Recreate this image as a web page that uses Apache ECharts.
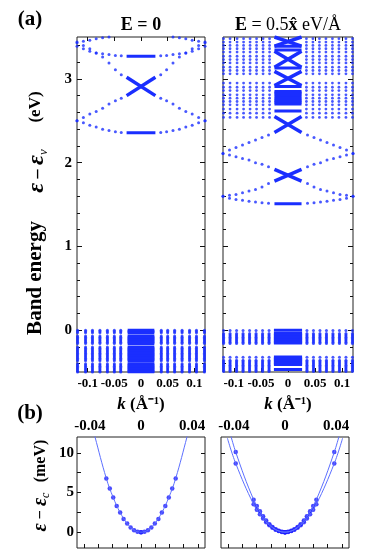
<!DOCTYPE html>
<html><head><meta charset="utf-8">
<script src="https://cdn.jsdelivr.net/npm/echarts@6/dist/echarts.min.js"></script>
<style>html,body{margin:0;padding:0;background:#fff}#c{width:369px;height:558px}</style>
</head><body><div id="c"></div>
<script>
// ================= DATA =================
// ---- Panel (a) left : E = 0 ----
const kSparseL = [0.037, 0.048, 0.060, 0.072, 0.084, 0.096, 0.108, 0.120];
const bandL1 = [2.36, 2.37, 2.385, 2.40, 2.425, 2.445, 2.475, 2.50];
const bandL2 = [2.77, 2.74, 2.70, 2.65, 2.61, 2.58, 2.54, 2.50];
const bandL3 = [3.05, 3.11, 3.19, 3.26, 3.31, 3.36, 3.40, 3.43];
const bandL4 = [3.275, 3.28, 3.29, 3.30, 3.31, 3.33, 3.36, 3.39];
const bandL5 = [null, null, 3.50, 3.49, 3.48, 3.46, 3.45, 3.44];
const kDenseL = 0.027;
const flatsL = [3.27, 2.356];
const crossL = [[3.02, 2.80]];
const valColsL = [0.038, 0.050, 0.063, 0.077, 0.091, 0.104, 0.119];
const valKCenterL = 0.025;
const valLevelsL = [0.0, -0.015, -0.03, -0.07, -0.085, -0.10, -0.115, -0.13, -0.145, -0.16,
  -0.20, -0.215, -0.23, -0.245, -0.26, -0.275, -0.29, -0.305, -0.32, -0.335, -0.35, -0.365,
  -0.40, -0.415, -0.43, -0.445, -0.46, -0.475, -0.49, -0.50];

// ---- Panel (a) right : E = 0.5 x eV/A ----
const kSparseR = [0.036, 0.048, 0.060, 0.072, 0.084, 0.096, 0.108, 0.120];
const bandR1 = [1.515, 1.52, 1.53, 1.54, 1.55, 1.56, 1.575, 1.60];
const bandR2 = [1.75, 1.71, 1.68, 1.66, 1.64, 1.62, 1.61, 1.60];
const bandR3 = [1.95, 1.98, 2.00, 2.03, 2.05, 2.07, 2.09, 2.11];
const bandR4 = [2.33, 2.30, 2.27, 2.24, 2.21, 2.18, 2.15, 2.11];
const kDenseR = 0.025;
const flatsR = [1.51, 2.615, 2.70, 2.72, 2.74, 2.76, 2.785, 2.81, 2.83, 2.85, 2.91, 3.13, 3.345, 3.39];
const crossR = [[1.92, 1.78], [2.55, 2.36], [3.09, 2.92], [3.33, 3.14], [3.50, 3.39]];
const upColsR = [0.034, 0.046, 0.058, 0.070, 0.082, 0.094, 0.107, 0.119];
const upLevelsR = [2.54, 2.59, 2.64, 2.69, 2.73, 2.77, 2.81, 2.86, 2.90, 2.95, 3.06, 3.10,
  3.14, 3.19, 3.23, 3.27, 3.32, 3.36, 3.40, 3.44, 3.48];
const valColsR = [0.035, 0.047, 0.059, 0.071, 0.083, 0.095, 0.107, 0.119];
const valKCenterR = 0.026;
const valLevelsR = [-0.005, -0.04, -0.055, -0.07, -0.085, -0.10, -0.115, -0.13, -0.145, -0.16,
  -0.325, -0.36, -0.375, -0.39, -0.405, -0.42, -0.435, -0.45, -0.465, -0.48, -0.495];
const valBlockR = [0.0, -0.04, -0.055, -0.07, -0.085, -0.10, -0.115, -0.13, -0.145, -0.155,
  -0.32, -0.335, -0.35, -0.365, -0.38, -0.395, -0.41, -0.47];

// ---- Panel (b) left ----
const kDotsBL = [0.0271, 0.0244, 0.0217, 0.0190, 0.0163, 0.0136, 0.0108, 0.0081, 0.0054, 0.0027, 0];
const eDotsBL = [6.78, 5.49, 4.36, 3.30, 2.47, 1.67, 1.09, 0.59, 0.25, 0.04, 0];
const kLineBL = [0.038, 0.036, 0.0271, 0.0217, 0.0163, 0.0108, 0.0054, 0];
const eLineBL = [13.4, 12.05, 6.78, 4.36, 2.47, 1.09, 0.25, 0];

// ---- Panel (b) right ----
const kDotsBR = [0.0385, 0.0245, 0.0220, 0.0196, 0.0171, 0.0147, 0.0122, 0.0098, 0.0073, 0.0049, 0.0024, 0];
const eDotsBRin = [10.1, 4.09, 3.30, 2.62, 1.99, 1.47, 1.01, 0.65, 0.36, 0.16, 0.04, 0];
const eDotsBRout = [8.67, 3.51, 2.83, 2.25, 1.71, 1.26, 0.87, 0.56, 0.31, 0.14, 0.03, 0];
const kLineBR = [0.045, 0.0385, 0.0245, 0.0171, 0.0098, 0.0049, 0];
const eLineBRin = [13.8, 10.1, 4.09, 1.99, 0.65, 0.16, 0];
const eLineBRout = [11.85, 8.67, 3.51, 1.71, 0.56, 0.14, 0];

// ---- tick labels ----
const xLabelsA = [-0.1, -0.05, 0, 0.05, 0.1];
const yLabelsA = [0, 1, 2, 3];
const yMinorA = [-0.4, -0.2, 0.2, 0.4, 0.6, 0.8, 1.2, 1.4, 1.6, 1.8, 2.2, 2.4, 2.6, 2.8, 3.2, 3.4];
const xLabelsB = [-0.04, 0, 0.04];
const xTicksB = [-0.0444, -0.0333, -0.0222, -0.0111, 0, 0.0111, 0.0222, 0.0333, 0.0444];
const yLabelsB = [0, 5, 10];
const yTicksB = [0, 2.5, 5, 7.5, 10];

// ================= BUILD =================
const C = '#1a2eff';
const FONT = '"Liberation Serif", "Times New Roman", serif';

function mirrorBand(ks, es) {
  const out = [];
  ks.forEach((k, i) => { if (es[i] == null) return; out.push([-k, es[i]]); out.push([k, es[i]]); });
  return out;
}
function grid2(ks, levels) {
  const out = [];
  ks.forEach(k => levels.forEach(e => { out.push([-k, e]); out.push([k, e]); }));
  return out;
}
function scatter(data, xi, yi, size, color) {
  return { type: 'scatter', xAxisIndex: xi, yAxisIndex: yi, data, symbolSize: size,
    itemStyle: { color: color || C }, silent: true, animation: false };
}
function seg(kc, e0, e1, xi, yi, w) {
  return { type: 'line', xAxisIndex: xi, yAxisIndex: yi, data: [[-kc, e0], [kc, e1]], symbol: 'none',
    lineStyle: { color: C, width: w || 3 }, silent: true, animation: false };
}
function curve(ks, es, xi, yi) {
  const pts = [];
  for (let i = 0; i < ks.length; i++) pts.push([-ks[i], es[i]]);
  for (let i = ks.length - 2; i >= 0; i--) pts.push([ks[i], es[i]]);
  return { type: 'line', xAxisIndex: xi, yAxisIndex: yi, data: pts, symbol: 'none', smooth: 0.4,
    lineStyle: { color: '#5c6fff', width: 1 }, silent: true, animation: false };
}

const series = [];
// (a) left
let ptsL = [];
[bandL1, bandL2, bandL3, bandL4, bandL5].forEach(b => { ptsL = ptsL.concat(mirrorBand(kSparseL, b)); });
series.push(scatter(ptsL, 0, 0, 3));
series.push(scatter(grid2(valColsL, valLevelsL), 0, 0, 3));
flatsL.forEach(e => series.push(seg(kDenseL, e, e, 0, 0, 3)));
crossL.forEach(c => { series.push(seg(kDenseL, c[0], c[1], 0, 0, 3.5)); series.push(seg(kDenseL, c[1], c[0], 0, 0, 3.5)); });
valLevelsL.forEach(e => series.push(seg(valKCenterL, e, e, 0, 0, 3)));

// (a) right
let ptsR = [];
[bandR1, bandR2, bandR3, bandR4].forEach(b => { ptsR = ptsR.concat(mirrorBand(kSparseR, b)); });
series.push(scatter(ptsR, 2, 4, 3));
series.push(scatter(grid2(upColsR, upLevelsR), 2, 4, 2.8));
series.push(scatter(grid2(valColsR, valLevelsR), 2, 4, 3));
flatsR.forEach(e => series.push(seg(kDenseR, e, e, 2, 4, 3)));
crossR.forEach(c => { series.push(seg(kDenseR, c[0], c[1], 2, 4, 3.5)); series.push(seg(kDenseR, c[1], c[0], 2, 4, 3.5)); });
valBlockR.forEach(e => series.push(seg(valKCenterR, e, e, 2, 4, 3)));

// (b) left
series.push(curve(kLineBL, eLineBL, 4, 8));
series.push(scatter(mirrorBand(kDotsBL, eDotsBL), 4, 8, 4.5, '#1a1aff'));
// (b) right
series.push(curve(kLineBR, eLineBRin, 6, 10));
series.push(curve(kLineBR, eLineBRout, 6, 10));
series.push(scatter(mirrorBand(kDotsBR, eDotsBRin).concat(mirrorBand(kDotsBR, eDotsBRout)), 6, 10, 4.5, '#1a1aff'));

// ---- axes ----
function ax(gi, min, max, pos, extra) {
  const a = { type: 'value', gridIndex: gi, min, max, position: pos,
    splitLine: { show: false }, axisLine: { show: false, onZero: false },
    axisLabel: { show: false }, axisTick: { show: false } };
  return Object.assign(a, extra || {});
}
const lbl = (vals, size, margin) => ({ show: true, customValues: vals, fontSize: size, fontWeight: 'bold',
  color: '#000', fontFamily: FONT, margin });
const tk = (vals, len) => ({ show: true, inside: true, length: len, customValues: vals,
  lineStyle: { color: '#111', width: 1 } });

const xAxis = [
  ax(0, -0.12, 0.12, 'bottom', { axisLabel: lbl(xLabelsA, 13, 5), axisTick: tk(xLabelsA, 4) }),
  ax(0, -0.12, 0.12, 'top', { axisTick: tk(xLabelsA, 4) }),
  ax(1, -0.12, 0.12, 'bottom', { axisLabel: lbl(xLabelsA, 13, 5), axisTick: tk(xLabelsA, 4) }),
  ax(1, -0.12, 0.12, 'top', { axisTick: tk(xLabelsA, 4) }),
  ax(2, -0.05, 0.05, 'top', { axisLabel: lbl(xLabelsB, 15, 3) }),
  ax(2, -0.05, 0.05, 'bottom', { axisTick: tk(xTicksB, 4) }),
  ax(3, -0.05, 0.05, 'top', { axisLabel: lbl(xLabelsB, 15, 3) }),
  ax(3, -0.05, 0.05, 'bottom', { axisTick: tk(xTicksB, 4) })
];
const yAxis = [
  ax(0, -0.5, 3.5, 'left', { axisLabel: lbl(yLabelsA, 15, 5), axisTick: tk(yLabelsA, 5) }),
  ax(0, -0.5, 3.5, 'left', { axisTick: tk(yMinorA, 3) }),
  ax(0, -0.5, 3.5, 'right', { axisTick: tk(yLabelsA, 5) }),
  ax(0, -0.5, 3.5, 'right', { axisTick: tk(yMinorA, 3) }),
  ax(1, -0.5, 3.5, 'left', { axisTick: tk(yLabelsA, 5) }),
  ax(1, -0.5, 3.5, 'left', { axisTick: tk(yMinorA, 3) }),
  ax(1, -0.5, 3.5, 'right', { axisTick: tk(yLabelsA, 5) }),
  ax(1, -0.5, 3.5, 'right', { axisTick: tk(yMinorA, 3) }),
  ax(2, -2, 12, 'left', { axisLabel: lbl(yLabelsB, 15, 3), axisTick: tk(yTicksB, 4) }),
  ax(2, -2, 12, 'right', { axisTick: tk(yTicksB, 4) }),
  ax(3, -2, 12, 'left', { axisTick: tk(yTicksB, 4) }),
  ax(3, -2, 12, 'right', { axisTick: tk(yTicksB, 4) })
];
const gb = { show: true, borderColor: '#222', borderWidth: 1, backgroundColor: 'transparent' };
const grid = [
  Object.assign({ left: 77, top: 37, width: 128, height: 335 }, gb),
  Object.assign({ left: 223, top: 37, width: 130, height: 335 }, gb),
  Object.assign({ left: 77, top: 437, width: 128, height: 111 }, gb),
  Object.assign({ left: 221, top: 437, width: 128, height: 111 }, gb)
];

function txt(x, y, text, font, rot, rich) {
  const o = { type: 'text', x, y, rotation: rot || 0, silent: true,
    style: { text, font, fill: '#000', align: 'center', verticalAlign: 'middle',
      textAlign: 'center', textVerticalAlign: 'middle' } };
  if (rich) o.style.rich = rich;
  return o;
}
const B = (s) => 'bold ' + s + 'px ' + FONT;
const N = (s) => s + 'px ' + FONT;
const BI = (s) => 'italic bold ' + s + 'px ' + FONT;
const graphic = [
  txt(30, 20, '(a)', B(21)),
  txt(30, 414, '(b)', B(21)),
  txt(141, 25, 'E = 0', B(18)),
  txt(288, 25, '{b|E}{n| = 0.5}{b|x\u0302}{n| eV/Å}', N(18), 0, {
    b: { font: B(18), fill: '#000' }, n: { font: N(18), fill: '#000' } }),
  txt(141, 405, '{i|k}{b| (Å⁻¹)}', B(17), 0, { i: { font: BI(17), fill: '#000' }, b: { font: B(17), fill: '#000' } }),
  txt(288, 405, '{i|k}{b| (Å⁻¹)}', B(17), 0, { i: { font: BI(17), fill: '#000' }, b: { font: B(17), fill: '#000' } }),
  txt(36, 278, 'Band energy', B(21), Math.PI / 2),
  txt(37, 171, '{e|ε} {b|–} {e|ε}{s|v}', B(18), Math.PI / 2, {
    e: { font: BI(24), fill: '#000', lineHeight: 26 }, b: { font: B(18), fill: '#000', lineHeight: 26 },
    s: { font: 'italic 13px ' + FONT, fill: '#000', verticalAlign: 'bottom', lineHeight: 26 } }),
  txt(36, 107, '(eV)', B(17), Math.PI / 2),
  txt(41, 461, '(meV)', B(16), Math.PI / 2),
  txt(41, 512, '{e|ε} {b|−} {e|ε}{s|c}', B(16), Math.PI / 2, {
    e: { font: BI(20), fill: '#000', lineHeight: 22 }, b: { font: B(16), fill: '#000', lineHeight: 22 },
    s: { font: 'italic 12px ' + FONT, fill: '#000', verticalAlign: 'bottom', lineHeight: 22 } })
];

const chart = echarts.init(document.getElementById('c'), null, { renderer: 'canvas' });
chart.setOption({ animation: false, backgroundColor: '#fff', grid, xAxis, yAxis, series, graphic });
</script></body></html>
